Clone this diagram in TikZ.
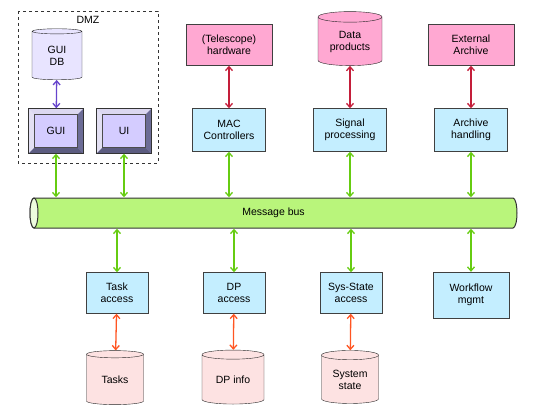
\documentclass[tikz,border=0pt]{standalone}
\usepackage{fontspec}
\setmainfont{Liberation Sans}
\usetikzlibrary{shapes.geometric,arrows.meta}

\definecolor{hwpink}{HTML}{FFA8D2}
\definecolor{swblue}{HTML}{C4EEFF}
\definecolor{busgreen}{HTML}{B9F57B}
\definecolor{dbpink}{HTML}{FDE2E2}
\definecolor{guiface}{HTML}{D4CCFF}
\definecolor{guilight}{HTML}{DCD8F0}
\definecolor{guidark}{HTML}{6C6C96}
\definecolor{guidb}{HTML}{E8E4FF}
\definecolor{hwred}{HTML}{C41E3A}
\definecolor{busline}{HTML}{66CC11}
\definecolor{dbred}{HTML}{FF5522}
\definecolor{guiline}{HTML}{6644CC}

\begin{document}
\begin{tikzpicture}[x=1pt,y=-1pt,
	every node/.style={font=\fontsize{10.5}{12}\selectfont, align=center, inner sep=1pt},
	swbox/.style={draw=black!75, fill=swblue, minimum width=73pt, minimum height=43pt},
	hwbox/.style={draw=black!75, fill=hwpink, minimum width=86pt, minimum height=41pt},
	dbcyl/.style={cylinder, shape border rotate=90, aspect=0.25, draw=black!85, fill=#1},
	bevelbox/.style={draw=black!80, fill=guiface, minimum width=55pt, minimum height=45pt,
		path picture={
			\fill[guilight] (path picture bounding box.north west) -- (path picture bounding box.north east)
				-- ([xshift=-6pt,yshift=-6pt]path picture bounding box.north east)
				-- ([xshift=6pt,yshift=-6pt]path picture bounding box.north west) -- cycle;
			\fill[guilight!80!white] (path picture bounding box.north west) -- (path picture bounding box.south west)
				-- ([xshift=6pt,yshift=6pt]path picture bounding box.south west)
				-- ([xshift=6pt,yshift=-6pt]path picture bounding box.north west) -- cycle;
			\fill[guidark] (path picture bounding box.north east) -- (path picture bounding box.south east)
				-- ([xshift=-6pt,yshift=6pt]path picture bounding box.south east)
				-- ([xshift=-6pt,yshift=-6pt]path picture bounding box.north east) -- cycle;
			\fill[guidark!85!black] (path picture bounding box.south west) -- (path picture bounding box.south east)
				-- ([xshift=-6pt,yshift=6pt]path picture bounding box.south east)
				-- ([xshift=6pt,yshift=6pt]path picture bounding box.south west) -- cycle;
			\draw[black!70, thin] ([xshift=6pt,yshift=6pt]path picture bounding box.south west)
				rectangle ([xshift=-6pt,yshift=-6pt]path picture bounding box.north east);
		}},
	buspipe/.style={minimum width=488pt, minimum height=31pt,
		path picture={
			\draw[black!80, line width=1pt, fill=busgreen] ([xshift=4.5pt,yshift=-0.5pt]path picture bounding box.north west)
				-- ([xshift=-4.5pt,yshift=-0.5pt]path picture bounding box.north east)
				arc[start angle=90, end angle=-90, x radius=4pt, y radius=15pt]
				-- ([xshift=4.5pt,yshift=0.5pt]path picture bounding box.south west)
				arc[start angle=270, end angle=90, x radius=4pt, y radius=15pt] -- cycle;
			\draw[black!80, line width=1pt, fill=busgreen!25] ([xshift=4.5pt]path picture bounding box.west)
				ellipse[x radius=4pt, y radius=15pt];
		}},
	link/.style={{Straight Barb[length=4pt,width=7pt]}-{Straight Barb[length=4pt,width=7pt]}, line width=1.3pt, #1}
]
	\useasboundingbox (0,0) rectangle (533,420);

	% DMZ
	\draw[dashed, black!80] (18,11) rectangle (158,163);
	\node (dmz) at (88,20) {DMZ};
	\node[dbcyl=guidb, minimum width=50pt, minimum height=51pt] (guidb) at (57,56) {GUI\\DB};
	\node[bevelbox] (gui) at (56,131) {GUI};
	\node[bevelbox] (ui) at (124,131) {UI};

	% top row
	\node[hwbox] (hw) at (229,45) {(Telescope)\\hardware};
	\node[dbcyl=hwpink, minimum width=64pt, minimum height=54pt] (dataprod) at (350,42) {Data\\products};
	\node[hwbox] (extarch) at (471,45) {External\\Archive};

	\node[swbox] (mac) at (229,130) {MAC\\Controllers};
	\node[swbox] (sigproc) at (350,130) {Signal\\processing};
	\node[swbox] (archhand) at (471,130) {Archive\\handling};

	% bus
	\node[buspipe] (bus) at (273.5,213) {Message bus};

	% bottom row
	\node[swbox, minimum width=62pt, minimum height=41pt] (taskacc) at (117,293) {Task\\access};
	\node[swbox, minimum width=62pt, minimum height=41pt] (dpacc) at (234,293) {DP\\access};
	\node[swbox, minimum width=62pt, minimum height=41pt] (sysacc) at (351,293) {Sys-State\\access};
	\node[swbox, minimum width=76pt, minimum height=46pt] (workflow) at (471,295) {Workflow\\mgmt};

	\node[dbcyl=dbpink, minimum width=57pt, minimum height=54pt] (tasks) at (115,380) {Tasks};
	\node[dbcyl=dbpink, minimum width=62pt, minimum height=54pt] (dpinfo) at (233,380) {DP info};
	\node[dbcyl=dbpink, minimum width=57pt, minimum height=53pt] (sysstate) at (350,380) {System\\state};

	% links
	\draw[link=guiline] (guidb) -- (gui);
	\draw[link=hwred] (hw) -- (mac);
	\draw[link=hwred] (dataprod) -- (sigproc);
	\draw[link=hwred] (extarch) -- (archhand);
	\foreach \n in {gui, ui, mac, sigproc, archhand}
		\draw[link=busline] (\n.south) -- (\n.south |- bus.north);
	\foreach \n in {taskacc, dpacc, sysacc, workflow}
		\draw[link=busline] (\n.north) -- (\n.north |- bus.south);
	\draw[link=dbred] (taskacc) -- (tasks);
	\draw[link=dbred] (dpacc) -- (dpinfo);
	\draw[link=dbred] (sysacc) -- (sysstate);
\end{tikzpicture}
\end{document}
